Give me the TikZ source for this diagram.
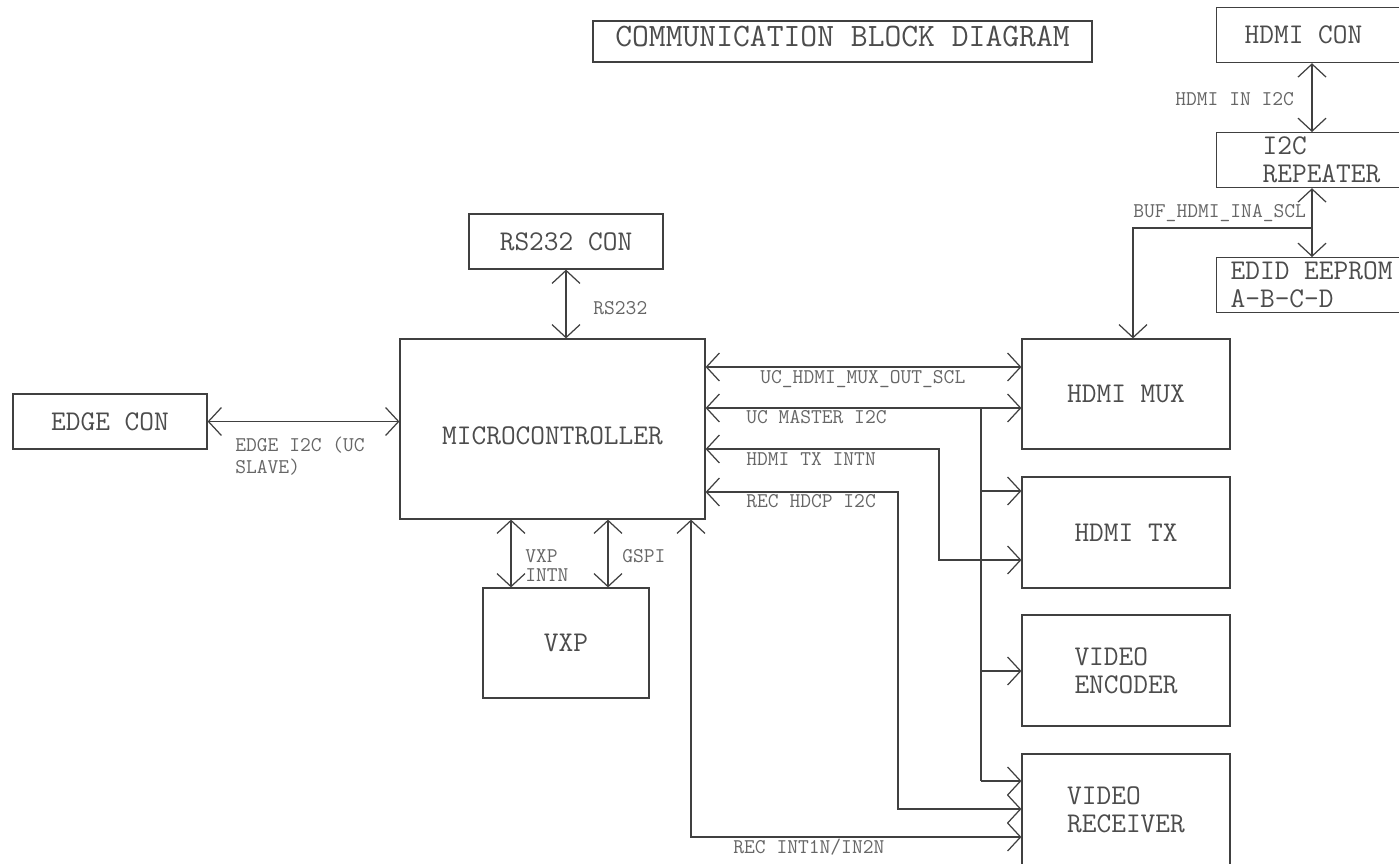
\documentclass[tikz,border=0pt]{standalone}
\usetikzlibrary{arrows.meta,positioning}

\begin{document}
\begin{tikzpicture}[x=0.02cm,y=-0.02cm,
      >={Straight Barb[length=0.26cm,width=0.56cm]},
      blk/.style={draw=black!75,line width=0.7pt,text=black!70,inner sep=0pt,
                  font=\ttfamily\fontsize{16.26}{15.9}\selectfont,align=flush left},
      lbl/.style={text=black!60,inner sep=0pt,anchor=west,align=flush left,
                  font=\ttfamily\fontsize{11.92}{12.5}\selectfont},
      sgl/.style={text height=0.256cm,text depth=0pt},
      wire/.style={draw=black!75,line width=0.7pt},
      arr/.style={wire,->},
      darr/.style={wire,<->},
  ]
  \useasboundingbox (0,0) rectangle (1399,863);

  %--- title
  \node[blk,minimum width=9.98cm,minimum height=0.82cm,text height=0.39cm,
        text depth=0.18cm,font=\ttfamily\fontsize{18.6}{20}\selectfont]
        (title) at (842.5,41.5) {COMMUNICATION BLOCK DIAGRAM};

  %--- left side
  \node[blk,minimum width=3.88cm,minimum height=1.1cm] (rscon) at (566,241.5) {RS232 CON};
  \node[blk,minimum width=6.1cm,minimum height=3.6cm,text height=0.63cm]
        (mcu) at (552.5,429) {MICROCONTROLLER};
  \node[blk,minimum width=3.88cm,minimum height=1.1cm] (edgecon) at (110,421.5) {EDGE CON};
  \node[blk,minimum width=3.32cm,minimum height=2.2cm] (vxp) at (566,643) {VXP};

  %--- right column
  \node[blk,minimum width=4.16cm,minimum height=2.2cm] (hdmimux) at (1126,394) {HDMI MUX};
  \node[blk,minimum width=4.16cm,minimum height=2.22cm] (hdmitx) at (1126,532.5) {HDMI TX};
  \node[blk,minimum width=4.16cm,minimum height=2.22cm] (venc) at (1126,670.5) {VIDEO\\ENCODER};
  \node[blk,minimum width=4.16cm,minimum height=2.22cm] (vrec) at (1126,809.5) {VIDEO\\RECEIVER};

  %--- top right
  \node[blk,anchor=north west,inner xsep=0.56cm,text width=3cm,minimum height=1.1cm]
        (hdmicon) at (1216,7) {HDMI CON};
  \node[blk,anchor=north west,inner xsep=0.92cm,text width=2.6cm,minimum height=1.1cm]
        (i2crep) at (1216,132) {I2C\\REPEATER};
  \node[blk,anchor=north west,inner xsep=0.28cm,text width=3.5cm,minimum height=1.1cm]
        (edid) at (1216,257) {EDID EEPROM\\A-B-C-D};

  % HDMI input side
  \draw[darr] (hdmicon.south -| 1312,0) -- (i2crep.north -| 1312,0);
  \draw[darr] (i2crep.south -| 1312,0) -- (edid.north -| 1312,0);
  \coordinate (tap) at (1312,228);
  \draw[arr] (tap) -| (hdmimux.north -| 1133,0);
  \node[lbl,sgl] (lhdmiin) at (1175,99) {HDMI IN I2C};
  \node[lbl,sgl] (lbuf) at (1133,211) {BUF\_HDMI\_INA\_SCL};

  % uC to connectors and VXP
  \draw[darr] (rscon.south) -- (mcu.north -| rscon.south);
  \draw[darr] (edgecon.east) -- (mcu.west |- edgecon.east);
  \foreach \x in {511,608}
    \draw[darr] (mcu.south -| \x,0) -- (vxp.north -| \x,0);
  \node[lbl,sgl] (lrs) at (593,308) {RS232};
  \node[lbl] (ledge) at (235,456) {EDGE I2C (UC\\SLAVE)};
  \node[lbl] (lvxpint) at (525,566) {VXP\\[-1.7pt]INTN};
  \node[lbl,sgl] (lgspi) at (622,556) {GSPI};

  % uC to right column
  \draw[darr] (mcu.east |- 0,367) -- (hdmimux.west |- 0,367);
  \draw[darr] (mcu.east |- 0,408) -- (hdmimux.west |- 0,408);
  \coordinate (bus) at (981,408);
  \draw[wire] (bus) -- (bus |- 0,781);
  \foreach \y/\n in {491/hdmitx,671/venc,781/vrec}
    \draw[arr] (bus |- 0,\y) -- (\n.west |- 0,\y);
  \draw[darr] (mcu.east |- 0,449) -| (939,560) -- (hdmitx.west |- 0,560);
  \draw[darr] (mcu.east |- 0,492) -| (898,809) -- (vrec.west |- 0,809);
  \draw[darr] (mcu.south -| 691,0) |- (vrec.west |- 0,837);
  \node[lbl,sgl] (lmuxscl) at (760,377) {UC\_HDMI\_MUX\_OUT\_SCL};
  \node[lbl,sgl] (lmaster) at (746,417) {UC MASTER I2C};
  \node[lbl,sgl] (ltxintn) at (746,459) {HDMI TX INTN};
  \node[lbl,sgl] (lhdcp) at (746,501) {REC HDCP I2C};
  \node[lbl,sgl] (lrecint) at (733,847) {REC INT1N/IN2N};
\end{tikzpicture}
\end{document}
